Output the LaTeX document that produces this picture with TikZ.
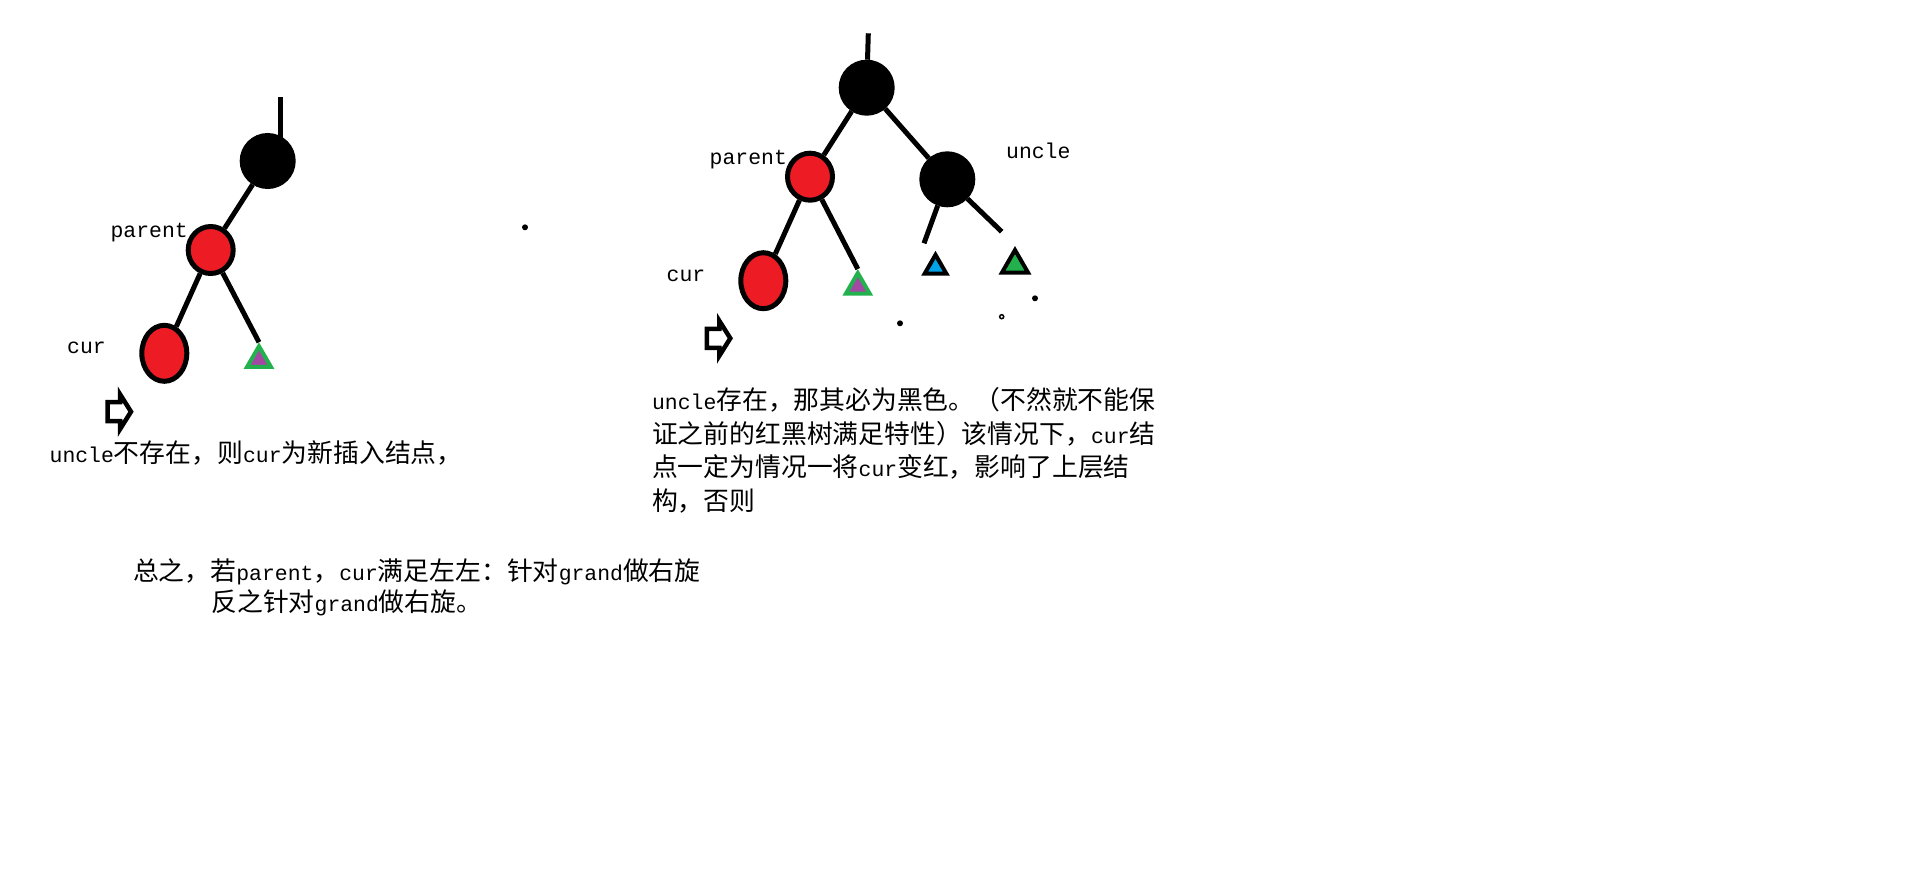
\documentclass[tikz,border=0pt]{standalone}
\usepackage{fontspec}
\setmainfont{Noto Sans CJK SC}[Kerning=Off]
\newfontfamily\latn{Liberation Mono}[Scale=0.83]
\newcommand{\lat}[1]{{\latn #1}}
\usetikzlibrary{shapes.geometric,backgrounds}
\definecolor{paintred}{HTML}{ED1C24}
\definecolor{paintgreen}{HTML}{22B14C}
\definecolor{paintpurple}{HTML}{A349A4}
\definecolor{paintblue}{HTML}{00A2E8}
\tikzset{
  blacknode/.style={circle,draw=black,fill=black,line width=0.1cm,minimum size=1.02cm,inner sep=0pt},
  rednode/.style={ellipse,draw=black,fill=paintred,line width=0.1cm,inner sep=0pt,
                  minimum width=0.9cm,minimum height=0.94cm},
  curnode/.style={rednode,minimum height=1.12cm},
  leaf/.style={regular polygon,regular polygon sides=3,line width=0.08cm,inner sep=0pt},
  link/.style={line width=0.1cm},
  lbl/.style={font=\fontsize{14.7}{17}\selectfont\latn,inner sep=0pt},
  txt/.style={font=\fontsize{14.7}{19.2}\selectfont,inner sep=0pt,align=left,anchor=north west},
  hollowarr/.pic={
    \draw[line width=0.09cm] (-12,-9.5) -- (0.5,-9.5) -- (0.5,-17.5) -- (11.5,0)
      -- (0.5,17.5) -- (0.5,9.5) -- (-12,9.5) -- cycle;
  }
}

\begin{document}
\begin{tikzpicture}[x=0.02cm,y=-0.02cm]
  \useasboundingbox (0,0) rectangle (1914,889);

  % left tree: uncle missing
  \node[blacknode] (g1) at (267.7,161) {};
  \node[rednode] (p1) at (210.7,250) {};
  \node[curnode] (c1) at (164.3,353.3) {};
  \node[leaf,draw=paintgreen,fill=paintpurple,minimum size=0.55cm] (t1) at (259,360) {};
  \coordinate (r1) at (280,97);
  \node[lbl] (lp1) at (149.2,233) {parent};
  \node[lbl] (lc1) at (86.5,348) {cur};
  \pic at (119.5,411.7) {hollowarr};
  \node[txt] (s1) at (49.3,440) {\lat{uncle}不存在，则\lat{cur}为新插入结点，};

  \begin{pgfonlayer}{background}
    \draw[link] (r1) -- (r1 |- g1);
    \draw[link] (g1) -- (p1);
    \draw[link] (p1) -- (c1);
    \draw[link] (p1) -- (t1.corner 1);
  \end{pgfonlayer}

  % right tree: uncle exists
  \node[blacknode] (g2) at (866.7,87.7) {};
  \node[rednode] (p2) at (810,176.7) {};
  \node[blacknode] (u2) at (947.3,179.3) {};
  \node[curnode] (c2) at (763.3,280.7) {};
  \node[leaf,draw=paintgreen,fill=paintpurple,minimum size=0.55cm] (t2) at (857.8,286.8) {};
  \node[leaf,draw=black,fill=paintblue,minimum size=0.5cm] (t3) at (935.5,267.3) {};
  \node[leaf,draw=black,fill=paintgreen,minimum size=0.6cm] (t4) at (1015,265) {};
  \coordinate (r2) at (868.3,33.3);
  \coordinate (ul) at (924,243.3);
  \coordinate (ur) at (1001.7,231.7);
  \node[lbl] (lp2) at (748.3,159.3) {parent};
  \node[lbl] (lc2) at (686,276) {cur};
  \node[lbl] (lu2) at (1038.3,150.7) {uncle};
  \pic at (718.8,338.3) {hollowarr};
  \node[txt] (s2) at (651.7,387) {\lat{uncle}存在，那其必为黑色。（不然就不能保\\
    证之前的红黑树满足特性）该情况下，\lat{cur}结\\
    点一定为情况一将\lat{cur}变红，影响了上层结\\
    构，否则};

  \begin{pgfonlayer}{background}
    \draw[link] (r2) -- (g2);
    \draw[link] (g2) -- (p2);
    \draw[link] (g2) -- (u2);
    \draw[link] (p2) -- (c2);
    \draw[link] (p2) -- (t2.corner 1);
    \draw[link] (u2) -- (ul);
    \draw[link] (u2) -- (ur);
  \end{pgfonlayer}

  % stray dots
  \fill (525,227.3) circle[radius=3];
  \fill (900,323.3) circle[radius=3];
  \fill (1035,298.3) circle[radius=3];
  \draw[line width=0.03cm] (1001.7,316.7) circle[radius=2];

  % summary
  \node[txt] (s3) at (132.7,558) {总之，若\lat{parent}，\lat{cur}满足左左：针对\lat{grand}做右旋};
  \node[txt] (s4) at (211,589) {反之针对\lat{grand}做右旋。};
\end{tikzpicture}
\end{document}
